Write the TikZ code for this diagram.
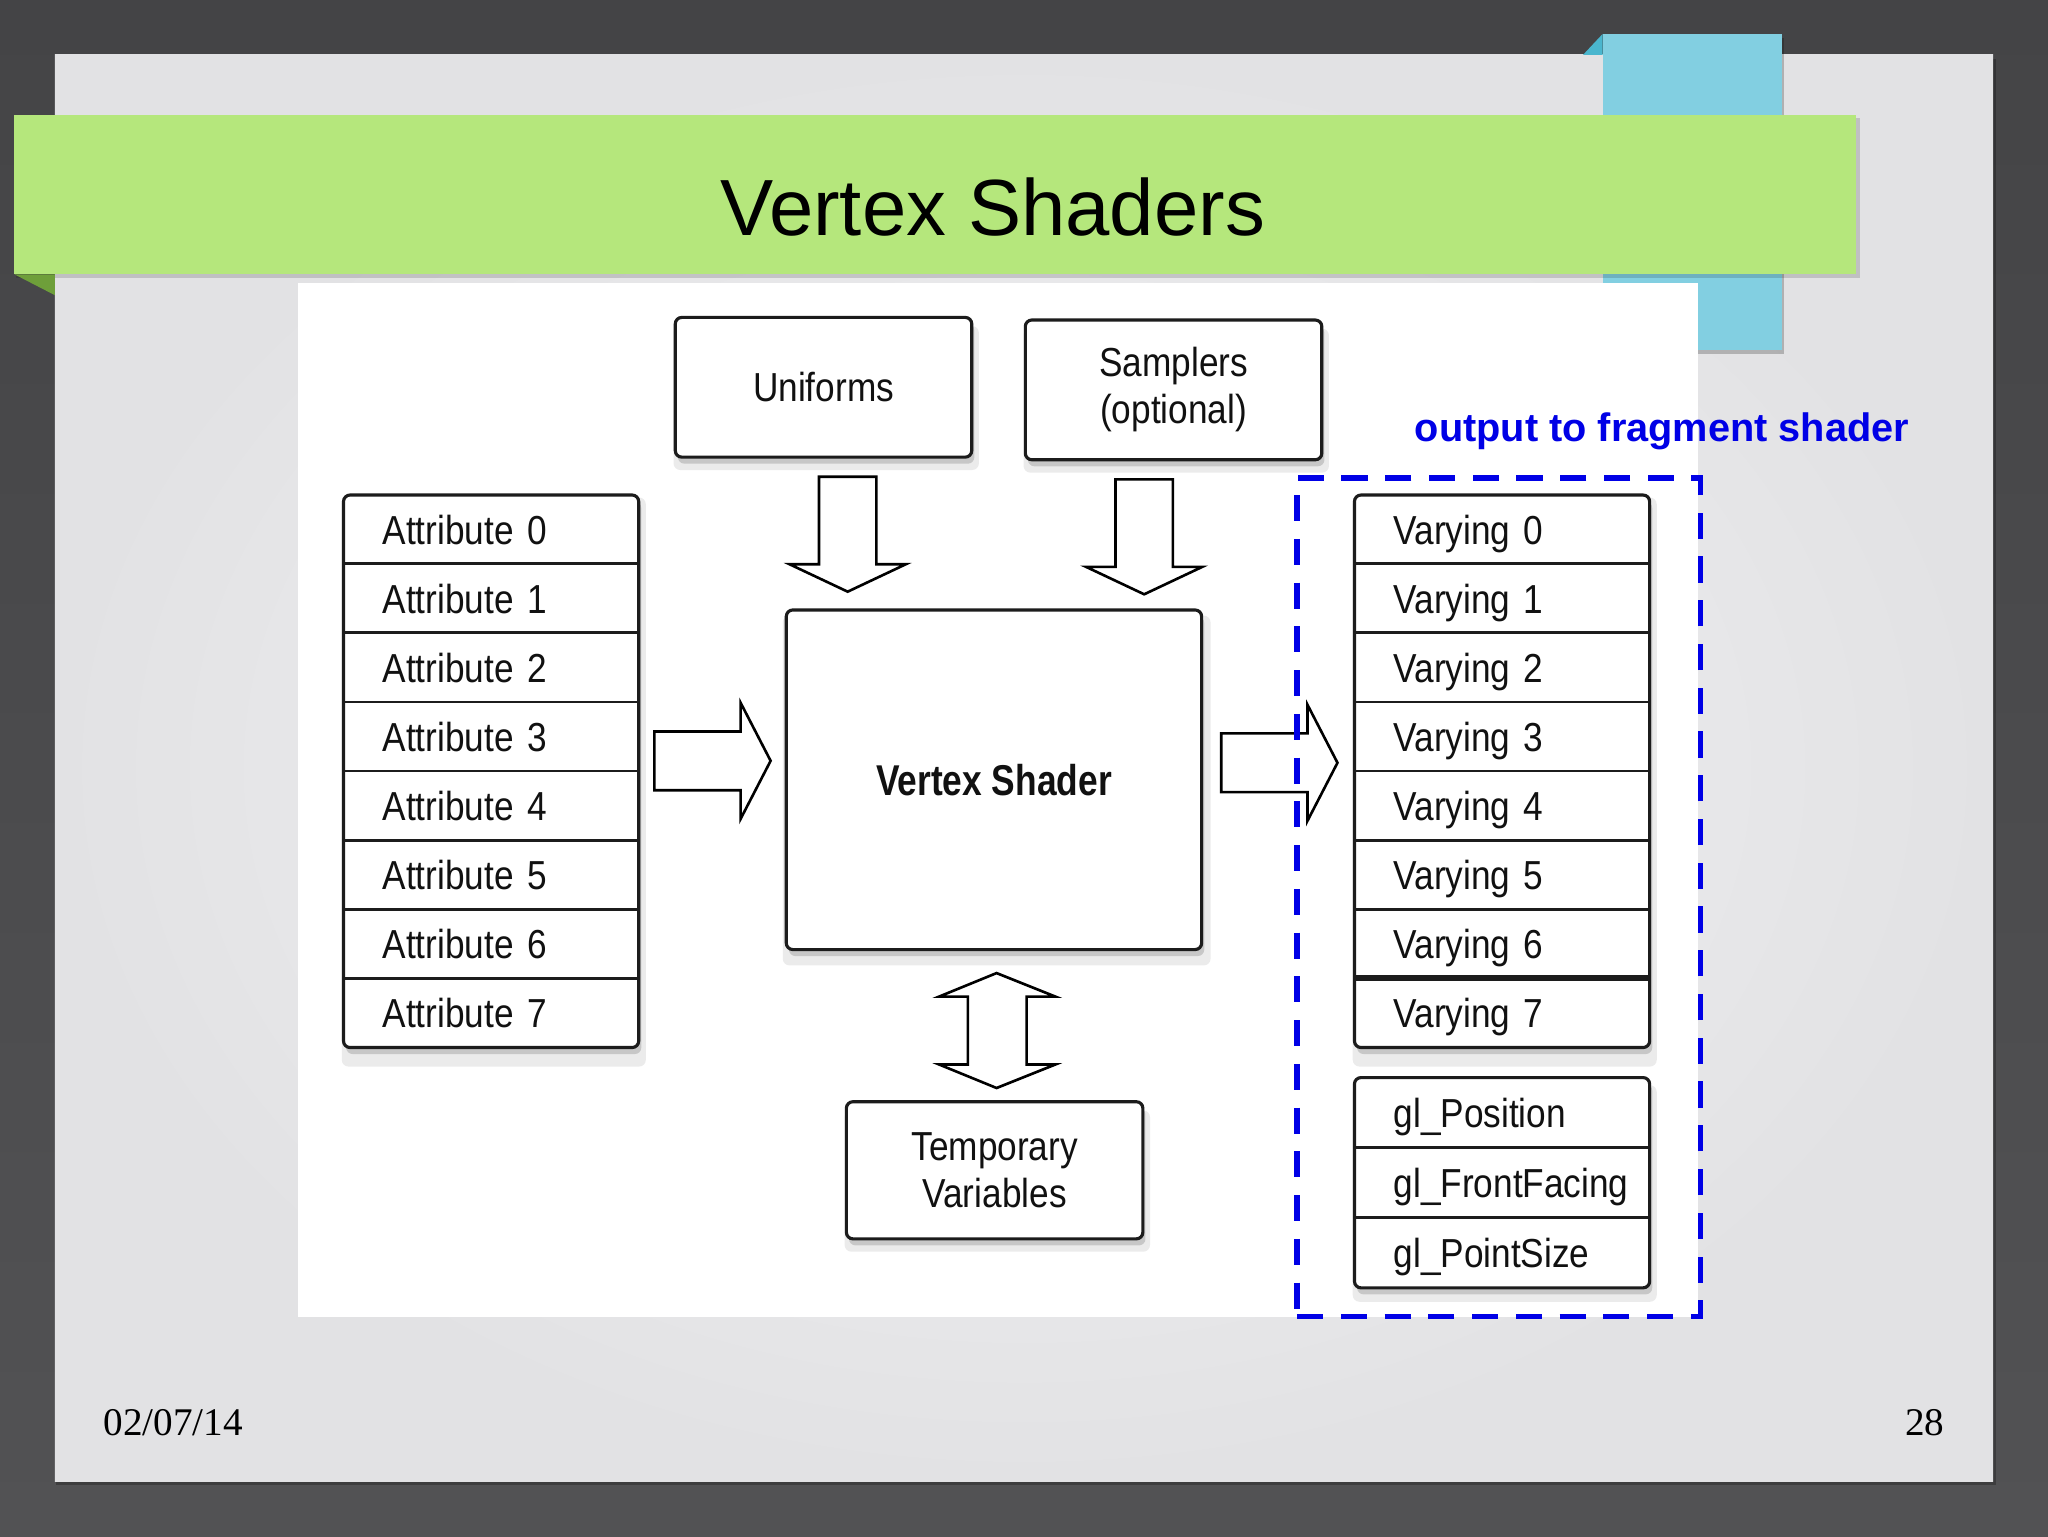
\documentclass[tikz,border=0pt]{standalone}
\usepackage{fontspec}
\setmainfont{Liberation Sans}
\newfontfamily\diagfont[FakeStretch=0.87]{Liberation Sans}
\newfontfamily\diagbold[FakeStretch=0.82]{Liberation Sans}
\newfontfamily\footserif{Liberation Serif}
\usetikzlibrary{shadows}
\definecolor{darkbg}{HTML}{525254}
\definecolor{darkbgtop}{HTML}{444446}
\definecolor{slidebg}{HTML}{E2E2E4}
\definecolor{slidehi}{HTML}{F4F4F6}
\definecolor{tabblue}{HTML}{82CFE1}
\definecolor{tabfold}{HTML}{4AB6CE}
\definecolor{bannergreen}{HTML}{B5E77C}
\definecolor{foldgreen}{HTML}{6E9F3A}
\definecolor{dashblue}{HTML}{0000E6}
\definecolor{boxline}{HTML}{1C1C1C}
\definecolor{inktext}{HTML}{111111}
\tikzset{
  shad/.style={drop shadow={shadow xshift=2pt, shadow yshift=-8pt, opacity=0.08, fill=black, shadow scale=1.03},
               drop shadow={shadow xshift=2pt, shadow yshift=-5pt, opacity=0.15, fill=black}},
  box/.style={draw=boxline, line width=2.4pt, rounded corners=5pt, fill=white, inner sep=0pt,
              text=inktext, font=\diagfont\fontsize{31}{36}\selectfont, align=center, shad},
  row/.style={minimum width=226pt, inner sep=0pt, text width=166pt, align=left,
              text height=22.5pt, text depth=0pt,
              text=inktext, font=\diagfont\fontsize{31}{36}\selectfont},
  divider/.style={draw=boxline, line width=2.2pt},
  blockarrow/.style={draw=black, line width=2pt, fill=white, line join=miter},
  downarrow/.pic={\draw[blockarrow] (-22,0) -- (22,0) -- (22,67) -- (44.5,67) -- (0,88) -- (-44.5,67) -- (-22,67) -- cycle;},
  rightarrow/.pic={\draw[blockarrow] (0,-22.5) -- (66,-22.5) -- (66,-44.5) -- (89,0) -- (66,44.5) -- (66,22.5) -- (0,22.5) -- cycle;},
}
\begin{document}
\begin{tikzpicture}[x=1pt,y=-1pt]
\useasboundingbox (0,0) rectangle (1568,1176);
% background
\shade[top color=darkbgtop, bottom color=darkbg] (0,0) rectangle (1568,1176);
% slide panel
\fill[black,opacity=0.25] (43,45) rectangle (1528,1137);
\shade[inner color=slidehi, outer color=slidebg] (42,42) rectangle (1526,1134);
% blue tab
\fill[tabfold] (1212,42) -- (1227,26) -- (1227,42) -- cycle;
\fill[black,opacity=0.22] (1228,29) rectangle (1366,271);
\fill[tabblue] (1227,26) rectangle (1364,268);
% green banner
\fill[black,opacity=0.15] (12,90) rectangle (1424,213);
\fill[bannergreen] (11,88) rectangle (1421,210);
\fill[foldgreen] (11,210) -- (42,210) -- (42,226) -- cycle;
\node[font=\fontsize{61}{70}\selectfont, anchor=base, text=black] (title) at (760,180) {Vertex Shaders};
% white picture area
\fill[white] (228,217) rectangle (1300,1008);
% top boxes
\node[box, minimum width=227pt, minimum height=107pt] (unif) at (630.5,296.5) {Uniforms};
\node[box, minimum width=227pt, minimum height=107pt] (samp) at (898.5,298.5) {Samplers\\(optional)};
% vertex shader
\node[box, minimum width=318pt, minimum height=260pt, font=\diagbold\bfseries\fontsize{33}{38}\selectfont] (vs) at (761,597) {Vertex Shader};
% temporary variables
\node[box, minimum width=227pt, minimum height=105pt] (temp) at (761.5,896) {Temporary\\Variables};
% attributes
\node[box, minimum width=226pt, minimum height=423pt] (attrs) at (376,590.5) {};
\foreach \i in {0,...,7}
  \node[row, minimum height=52.875pt] (a\i) at (376,{379+52.875*(\i+0.5)}) {Attribute \i};
\foreach \i in {1,...,7}
  \draw[divider] (a\i.north west) -- (a\i.north east);
% varyings
\node[box, minimum width=226pt, minimum height=423pt] (vars) at (1150,590.5) {};
\foreach \i in {0,...,7}
  \node[row, minimum height=52.875pt] (v\i) at (1150,{379+52.875*(\i+0.5)}) {Varying \i};
\foreach \i in {1,...,6}
  \draw[divider] (v\i.north west) -- (v\i.north east);
\draw[divider, line width=4.5pt] (v7.north west) -- (v7.north east);
% gl builtins
\node[box, minimum width=226pt, minimum height=161pt] (gls) at (1150,905.5) {};
\node[row, minimum height=53.67pt] (g0) at (1150,851.8) {gl\_Position};
\node[row, minimum height=53.67pt] (g1) at (1150,905.5) {gl\_FrontFacing};
\node[row, minimum height=53.67pt] (g2) at (1150,959.2) {gl\_PointSize};
\draw[divider] (g1.north west) -- (g1.north east);
\draw[divider] (g2.north west) -- (g2.north east);
% block arrows
\coordinate (ua) at (649,365);
\coordinate (sa) at (876,367);
\coordinate (la) at (501,582.5);
\coordinate (ra) at (935,584);
\pic at (ua) {downarrow};
\pic at (sa) {downarrow};
\pic at (la) {rightarrow};
\pic at (ra) {rightarrow};
\coordinate (da) at (763,745);
\draw[blockarrow] (da) -- ++(45,18) -- ++(-22,0) -- ++(0,52) -- ++(22,0) -- ++(-45,18) -- ++(-44,-18) -- ++(22,0) -- ++(0,-52) -- ++(-22,0) -- cycle;
% output box
\node[draw=dashblue, line width=4pt, dash pattern=on 20pt off 13.5pt, minimum width=309pt, minimum height=642pt, inner sep=0pt] (outbox) at (1147.5,687) {};
\node[font=\bfseries\fontsize{30.4}{36}\selectfont, text=dashblue, anchor=base west, inner sep=0pt] (outlbl) at (1083,338) {output to fragment shader};
% footer
\node[font=\footserif\fontsize{30}{36}\selectfont, anchor=base west, inner sep=0pt, text=black] (date) at (79,1099) {02/07/14};
\node[font=\footserif\fontsize{30}{36}\selectfont, anchor=base east, inner sep=0pt, text=black] (pg) at (1489,1099) {28};
\end{tikzpicture}
\end{document}
